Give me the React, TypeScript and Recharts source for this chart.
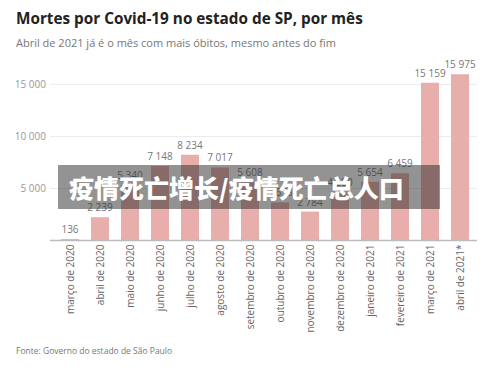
import React from 'react';
import { BarChart, Bar, XAxis, YAxis, CartesianGrid, LabelList } from 'recharts';

const months = [
  'março de 2020', 'abril de 2020', 'maio de 2020', 'junho de 2020', 'julho de 2020',
  'agosto de 2020', 'setembro de 2020', 'outubro de 2020', 'novembro de 2020',
  'dezembro de 2020', 'janeiro de 2021', 'fevereiro de 2021', 'março de 2021', 'abril de 2021*',
];
const deaths = [136, 2239, 5340, 7148, 8234, 7017, 5608, 3658, 2784, 4680, 5654, 6459, 15159, 15975];
const yTicks = [5000, 10000, 15000];

const data = months.map((m, i) => ({ month: m, deaths: deaths[i] }));

const fmt = (v: number) => String(v).replace(/\B(?=(\d{3})+(?!\d))/g, ' ');
const FONT = '"Open Sans", "Noto Sans", sans-serif';

const XTick = (props: any) => {
  const { x, y, payload } = props;
  return (
    <g transform={`translate(${x},${y + 4})`}>
      <text transform="rotate(-90)" textAnchor="end" dy="0.35em" fontSize={10} fill="#666" fontFamily={FONT}>
        {payload.value}
      </text>
    </g>
  );
};

const TopLabel = (props: any) => {
  const { x, y, width, value } = props;
  return (
    <text x={x + width / 2} y={y - 6} textAnchor="middle" fontSize={10} fill="#777" fontFamily={FONT}>
      {fmt(value)}
    </text>
  );
};

export default function App() {
  return (
    <div style={{ position: 'absolute', left: 0, top: 0, width: 500, height: 374, background: '#fff', fontFamily: FONT }}>
      <div style={{ position: 'absolute', left: 16, top: 8, fontSize: 15.3, fontWeight: 700, color: '#222', whiteSpace: 'nowrap' }}>
        Mortes por Covid-19 no estado de SP, por mês
      </div>
      <div style={{ position: 'absolute', left: 16, top: 35, fontSize: 11, color: '#777', whiteSpace: 'nowrap' }}>
        Abril de 2021 já é o mês com mais óbitos, mesmo antes do fim
      </div>
      <div style={{ position: 'absolute', left: 0, top: 0 }}>
        <BarChart width={500} height={374} data={data} margin={{ top: 74, right: 23, bottom: 23.5, left: 0 }}>
          <CartesianGrid vertical={false} stroke="#ebebeb" horizontalValues={yTicks} />
          <XAxis
            dataKey="month"
            interval={0}
            height={110}
            tickLine={false}
            tickSize={0}
            tickMargin={0}
            axisLine={{ stroke: '#bbb', strokeWidth: 1.5 }}
            tick={<XTick />}
            padding={{ left: 5, right: 2 }}
          />
          <YAxis
            width={50}
            domain={[0, 16000]}
            ticks={yTicks}
            axisLine={false}
            tickLine={false}
            tickSize={0}
            tickMargin={4}
            tickFormatter={fmt}
            tick={{ fontSize: 10, fill: '#999', fontFamily: FONT }}
          />
          <Bar dataKey="deaths" fill="#e8aeab" barSize={18} isAnimationActive={false}>
            <LabelList dataKey="deaths" content={<TopLabel />} />
          </Bar>
        </BarChart>
      </div>
      <div style={{ position: 'absolute', left: 16, top: 345, fontSize: 8.5, color: '#777', whiteSpace: 'nowrap' }}>
        Fonte: Governo do estado de São Paulo
      </div>
      <div style={{ position: 'absolute', left: 58, top: 165, width: 382, height: 44, background: 'rgba(40,40,40,0.5)' }} />
      <div style={{ position: 'absolute', left: 69, top: 169, fontSize: 25, fontWeight: 900, color: '#fff', whiteSpace: 'nowrap', fontFamily: '"Noto Sans CJK SC", sans-serif', lineHeight: '36px' }}>
        疫情死亡增长/疫情死亡总人口
      </div>
    </div>
  );
}
